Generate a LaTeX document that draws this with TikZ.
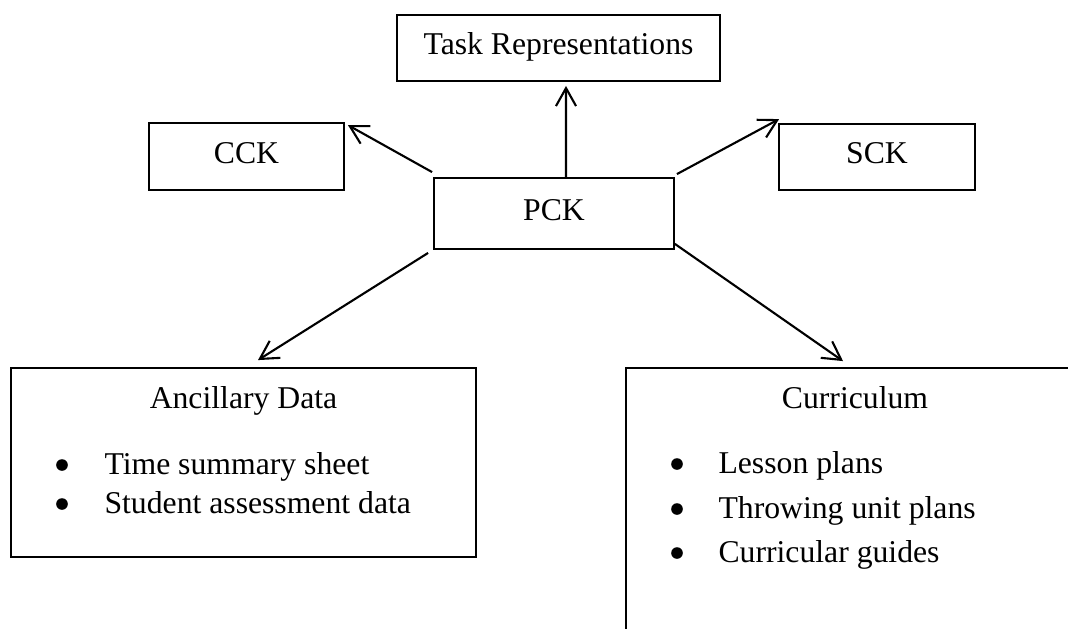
\documentclass[tikz,border=0pt]{standalone}
\usepackage{fontspec}
\setmainfont{Liberation Serif}
\usetikzlibrary{arrows.meta}
\newcommand{\px}{0.3785pt}
\tikzset{
  box/.style={draw, line width=0.7pt, inner sep=0pt, text height=8pt, text depth=3pt},
  arr/.style={-{Straight Barb[length=6.8pt,width=7.6pt]}, line width=0.8pt},
  item/.style={anchor=base west, inner sep=0pt},
  dot/.style={circle, fill, inner sep=0pt, minimum size=4.4pt}
}
\begin{document}
\begin{tikzpicture}[x=\px, y=-\px, font=\fontsize{12}{14}\selectfont]
\useasboundingbox (0,0) rectangle (1068,628);
\clip (0,0) rectangle (1068,628);

\node[box, minimum width=323*\px, minimum height=66*\px] (task) at (558.5,48) {Task Representations};
\node[box, minimum width=195*\px, minimum height=67*\px] (cck) at (246.5,156.5) {CCK};
\node[box, minimum width=196*\px, minimum height=66*\px] (sck) at (877,157) {SCK};
\node[box, minimum width=240*\px, minimum height=71*\px] (pck) at (554,213.5) {PCK};
\node[box, minimum width=465*\px, minimum height=189*\px] (anc) at (243.5,462.5) {};
\node[box, minimum width=484*\px, minimum height=292*\px] (cur) at (868,514) {};

\node[anchor=base] (anctitle) at (243.5,408) {Ancillary Data};
\node[anchor=base] (curtitle) at (855,408) {Curriculum};

\foreach \txt/\y [count=\i] in {Time summary sheet/474, Student assessment data/513} {
\node[dot] (ancdot\i) at (62,\y-9) {};
\node[item] (ancitem\i) at (104,\y) {\txt};}
\foreach \txt/\y [count=\i] in {Lesson plans/473, Throwing unit plans/518, Curricular guides/562} {
\node[dot] (curdot\i) at (677,\y-9) {};
\node[item] (curitem\i) at (718,\y) {\txt};}

\draw[arr] ([shift={(12,0)}]pck.north) -- ([shift={(7.5,4)}]task.south);
\draw[arr] ([shift={(-1,-5)}]pck.north west) -- ([shift={(3,3)}]cck.north east);
\draw[arr] ([shift={(2,-3)}]pck.north east) -- ([shift={(1,-4)}]sck.north west);
\draw[arr] ([shift={(-5,3)}]pck.south west) -- ([shift={(14.5,-7)}]anc.north);
\draw[arr] ([shift={(0,-6)}]pck.south east) -- ([shift={(-25,-6)}]cur.north);
\end{tikzpicture}
\end{document}
